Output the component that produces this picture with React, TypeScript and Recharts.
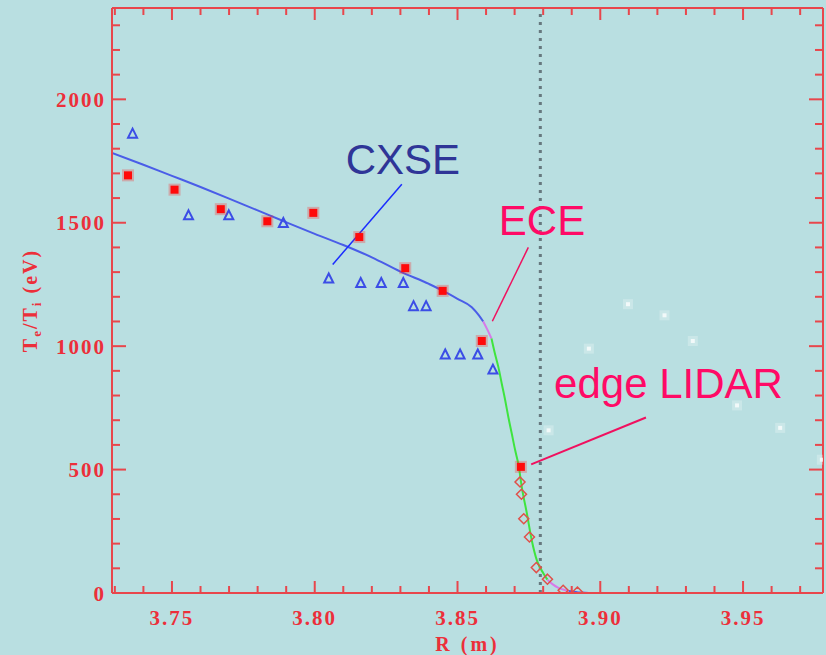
import {
  ComposedChart,
  Scatter,
  Line,
  XAxis,
  YAxis,
  ReferenceLine,
  ReferenceDot,
  Label,
} from 'recharts';

// ECE channels (R in m, T in eV)
const eceR = [3.7346, 3.7509, 3.7671, 3.7834, 3.7995, 3.8156, 3.8317, 3.8448, 3.8585, 3.8722];
const eceT = [1692, 1634, 1555, 1506, 1540, 1442, 1316, 1224, 1021, 511];

// CXSE ion temperature
const cxseR = [3.7362, 3.7558, 3.7699, 3.789, 3.8049, 3.8161, 3.8233, 3.831, 3.8346, 3.839, 3.8457, 3.8509, 3.8571, 3.8624];
const cxseT = [1861, 1530, 1530, 1499, 1274, 1256, 1256, 1256, 1162, 1162, 966, 966, 966, 905];

// edge LIDAR
const lidarR = [3.8719, 3.8724, 3.8732, 3.8752, 3.8776, 3.8815, 3.887, 3.892];
const lidarT = [450, 400, 301, 227, 103, 56, 11, 4];

// outside-separatrix points, drawn faint
const outerR = [3.8819, 3.896, 3.9097, 3.9225, 3.9324, 3.9479, 3.963, 3.9776];
const outerT = [659, 990, 1170, 1125, 1021, 760, 669, 540];

// fitted profile, split where its colour changes
const fitCoreR = [3.729, 3.74, 3.75, 3.76, 3.77, 3.78, 3.79, 3.8, 3.81, 3.82, 3.83, 3.84, 3.845, 3.85, 3.855, 3.8575, 3.859];
const fitCoreT = [1783, 1735, 1690, 1645, 1598, 1550, 1502, 1455, 1410, 1360, 1302, 1252, 1224, 1192, 1158, 1125, 1100];
const fitKneeR = [3.859, 3.8605, 3.8619];
const fitKneeT = [1100, 1066, 1031];
const fitPedR = [3.8619, 3.8631, 3.8643, 3.8655, 3.8667, 3.8678, 3.869, 3.8702, 3.8714, 3.8725, 3.8743, 3.876, 3.8778, 3.8801, 3.8815];
const fitPedT = [1031, 970, 916, 848, 781, 713, 646, 578, 517, 430, 322, 214, 132, 79, 54];
const fitFootR = [3.8815, 3.8835, 3.8852, 3.887, 3.889];
const fitFootT = [54, 34, 22, 14, 8];
const fitSolR = [3.889, 3.892, 3.896, 3.978];
const fitSolT = [8, 3, 0, 0];

const rTicks = [3.73, 3.74, 3.75, 3.76, 3.77, 3.78, 3.79, 3.8, 3.81, 3.82, 3.83, 3.84, 3.85, 3.86, 3.87, 3.88, 3.89, 3.9, 3.91, 3.92, 3.93, 3.94, 3.95, 3.96, 3.97];
const tTicks = [0, 100, 200, 300, 400, 500, 600, 700, 800, 900, 1000, 1100, 1200, 1300, 1400, 1500, 1600, 1700, 1800, 1900, 2000, 2100, 2200, 2300];
const separatrixR = 3.879;

const R_DOMAIN = [3.729, 3.978];
const T_DOMAIN = [0, 2370];

const FRAME = '#e8464c';
const TICK_TEXT = '#ec2f3a';
const BG = '#b9dfe1';
const tickFont = { fontFamily: '"Liberation Serif", serif', fontWeight: 700, fontSize: 21, letterSpacing: 2 };

const zip = (rs: number[], ts: number[]) => rs.map((r, i) => ({ r, t: ts[i] }));

const ece = zip(eceR, eceT);
const cxse = zip(cxseR, cxseT);
const lidar = zip(lidarR, lidarT);
const outer = zip(outerR, outerT);
const fitCore = zip(fitCoreR, fitCoreT);
const fitKnee = zip(fitKneeR, fitKneeT);
const fitPed = zip(fitPedR, fitPedT);
const fitFoot = zip(fitFootR, fitFootT);
const fitSol = zip(fitSolR, fitSolT);

const isMajorR = (v: number) => Math.round(v * 100) % 5 === 0;
const isMajorT = (v: number) => v % 500 === 0;

function BottomTick({ x, y, payload }: any) {
  const major = isMajorR(payload.value);
  return (
    <g>
      <line x1={x} x2={x} y1={y} y2={y - (major ? 12 : 7)} stroke={FRAME} strokeWidth={2} />
      {major && (
        <text x={x} y={y + 32} textAnchor="middle" fill={TICK_TEXT} style={tickFont}>
          {payload.value.toFixed(2)}
        </text>
      )}
    </g>
  );
}

function TopTick({ x, y, payload }: any) {
  const major = isMajorR(payload.value);
  return <line x1={x} x2={x} y1={y} y2={y + (major ? 12 : 7)} stroke={FRAME} strokeWidth={2} />;
}

function LeftTick({ x, y, payload }: any) {
  const major = isMajorT(payload.value);
  return (
    <g>
      <line x1={x} x2={x + (major ? 14 : 8)} y1={y} y2={y} stroke={FRAME} strokeWidth={2} />
      {major && (
        <text x={x - 6} y={y} dy="0.36em" textAnchor="end" fill={TICK_TEXT} style={tickFont}>
          {payload.value}
        </text>
      )}
    </g>
  );
}

function RightTick({ x, y, payload }: any) {
  const major = isMajorT(payload.value);
  return <line x1={x} x2={x - (major ? 14 : 8)} y1={y} y2={y} stroke={FRAME} strokeWidth={2} />;
}

function EceMark({ cx, cy }: any) {
  return (
    <g>
      <rect x={cx - 6} y={cy - 6} width={12} height={12} fill="#ff2020" opacity={0.28} />
      <rect x={cx - 4} y={cy - 4} width={8} height={8} fill="#ff0a0a" />
    </g>
  );
}

function CxseMark({ cx, cy }: any) {
  return (
    <polygon
      points={`${cx},${cy - 5} ${cx + 4.5},${cy + 4} ${cx - 4.5},${cy + 4}`}
      fill="none"
      stroke="#3b4de6"
      strokeWidth={2}
    />
  );
}

function LidarMark({ cx, cy }: any) {
  return (
    <polygon
      points={`${cx},${cy - 5} ${cx + 5},${cy} ${cx},${cy + 5} ${cx - 5},${cy}`}
      fill="none"
      stroke="#e0504a"
      strokeWidth={1.5}
    />
  );
}

function OuterMark({ cx, cy }: any) {
  return (
    <g>
      <rect x={cx - 5} y={cy - 5} width={10} height={10} fill="#ffffff" opacity={0.25} />
      <rect x={cx - 2} y={cy - 2} width={4} height={4} fill="#ffffff" opacity={0.75} />
    </g>
  );
}

const NoMark = () => <g />;

const annotation = (text: string, color: string) => ({ cx, cy }: any) => (
  <text
    x={cx}
    y={cy}
    textAnchor="middle"
    fill={color}
    style={{ fontFamily: '"Liberation Sans", Arial, sans-serif', fontSize: 42 }}
  >
    {text}
  </text>
);

function YTitle({ viewBox }: any) {
  const cy = viewBox.y + viewBox.height / 2;
  return (
    <text
      x={30}
      y={cy}
      transform={`rotate(-90, 30, ${cy})`}
      textAnchor="middle"
      dy="0.35em"
      fill={TICK_TEXT}
      style={{ fontFamily: '"Liberation Serif", serif', fontWeight: 700, fontSize: 20, letterSpacing: 2 }}
    >
      T
      <tspan dy={4} fontSize={13}>e</tspan>
      <tspan dy={-4}>/T</tspan>
      <tspan dy={4} fontSize={13}>i</tspan>
      <tspan dy={-4}> (eV)</tspan>
    </text>
  );
}

function XTitle({ viewBox }: any) {
  return (
    <text
      x={viewBox.x + viewBox.width / 2}
      y={651}
      textAnchor="middle"
      fill={TICK_TEXT}
      style={{ fontFamily: '"Liberation Serif", serif', fontWeight: 700, fontSize: 20, letterSpacing: 3 }}
    >
      R (m)
    </text>
  );
}

export default function App() {
  return (
    <div style={{ position: 'absolute', left: 0, top: 0, width: 826, height: 655, background: BG }}>
      <ComposedChart width={826} height={655} margin={{ top: 7, right: 2, bottom: 0, left: 0 }}>
        <XAxis
          xAxisId="bottom"
          dataKey="r"
          type="number"
          domain={R_DOMAIN}
          ticks={rTicks}
          interval={0}
          height={62}
          tickSize={0}
          tickMargin={0}
          tickLine={false}
          axisLine={{ stroke: FRAME, strokeWidth: 2 }}
          tick={(p: any) => <BottomTick {...p} />}
          allowDataOverflow
        >
          <Label content={(p: any) => <XTitle {...p} />} />
        </XAxis>
        <XAxis
          xAxisId="top"
          orientation="top"
          dataKey="r"
          type="number"
          domain={R_DOMAIN}
          ticks={rTicks}
          interval={0}
          height={1}
          tickSize={0}
          tickMargin={0}
          tickLine={false}
          axisLine={{ stroke: FRAME, strokeWidth: 2 }}
          tick={(p: any) => <TopTick {...p} />}
          allowDataOverflow
        />
        <YAxis
          yAxisId="left"
          dataKey="t"
          type="number"
          domain={T_DOMAIN}
          ticks={tTicks}
          interval={0}
          width={112}
          tickSize={0}
          tickMargin={0}
          tickLine={false}
          axisLine={{ stroke: FRAME, strokeWidth: 2 }}
          tick={(p: any) => <LeftTick {...p} />}
          allowDataOverflow
        >
          <Label content={(p: any) => <YTitle {...p} />} />
        </YAxis>
        <YAxis
          yAxisId="right"
          orientation="right"
          dataKey="t"
          type="number"
          domain={T_DOMAIN}
          ticks={tTicks}
          interval={0}
          width={1}
          tickSize={0}
          tickMargin={0}
          tickLine={false}
          axisLine={{ stroke: FRAME, strokeWidth: 2 }}
          tick={(p: any) => <RightTick {...p} />}
          allowDataOverflow
        />

        {/* keeps the mirrored top/right axes bound to a series */}
        <Scatter xAxisId="top" yAxisId="right" data={ece} dataKey="t" shape={NoMark} isAnimationActive={false} />

        <ReferenceLine
          xAxisId="bottom"
          yAxisId="left"
          x={separatrixR}
          stroke="#66787e"
          strokeWidth={3}
          strokeDasharray="3 5"
        />

        <Line xAxisId="bottom" yAxisId="left" data={fitCore} dataKey="t" type="monotone" stroke="#4a5de8" strokeWidth={2} dot={false} isAnimationActive={false} />
        <Line xAxisId="bottom" yAxisId="left" data={fitKnee} dataKey="t" type="monotone" stroke="#d77ae8" strokeWidth={2} dot={false} isAnimationActive={false} />
        <Line xAxisId="bottom" yAxisId="left" data={fitPed} dataKey="t" type="monotone" stroke="#3fe43f" strokeWidth={2} dot={false} isAnimationActive={false} />
        <Line xAxisId="bottom" yAxisId="left" data={fitFoot} dataKey="t" type="monotone" stroke="#d77ae8" strokeWidth={2} dot={false} isAnimationActive={false} />
        <Line xAxisId="bottom" yAxisId="left" data={fitSol} dataKey="t" type="linear" stroke="#4a5de8" strokeWidth={2} dot={false} isAnimationActive={false} />

        <Scatter xAxisId="bottom" yAxisId="left" data={outer} dataKey="t" shape={(p: any) => <OuterMark {...p} />} isAnimationActive={false} />
        <Scatter xAxisId="bottom" yAxisId="left" data={cxse} dataKey="t" shape={(p: any) => <CxseMark {...p} />} isAnimationActive={false} />
        <Scatter xAxisId="bottom" yAxisId="left" data={lidar} dataKey="t" shape={(p: any) => <LidarMark {...p} />} isAnimationActive={false} />
        <Scatter xAxisId="bottom" yAxisId="left" data={ece} dataKey="t" shape={(p: any) => <EceMark {...p} />} isAnimationActive={false} />

        <ReferenceLine xAxisId="bottom" yAxisId="left" segment={[{ x: 3.8305, y: 1656 }, { x: 3.8063, y: 1331 }]} stroke="#1a2cff" strokeWidth={1.5} />
        <ReferenceLine xAxisId="bottom" yAxisId="left" segment={[{ x: 3.8748, y: 1400 }, { x: 3.8622, y: 1101 }]} stroke="#f0105f" strokeWidth={1.5} />
        <ReferenceLine xAxisId="bottom" yAxisId="left" segment={[{ x: 3.916, y: 711 }, { x: 3.8758, y: 521 }]} stroke="#f0105f" strokeWidth={2} />

        <ReferenceDot xAxisId="bottom" yAxisId="left" x={3.8309} y={1696} r={0} shape={annotation('CXSE', '#2f3597')} />
        <ReferenceDot xAxisId="bottom" yAxisId="left" x={3.8796} y={1449} r={0} shape={annotation('ECE', '#ff0a66')} />
        <ReferenceDot xAxisId="bottom" yAxisId="left" x={3.9239} y={792} r={0} shape={annotation('edge LIDAR', '#ff0a66')} />
      </ComposedChart>
    </div>
  );
}
